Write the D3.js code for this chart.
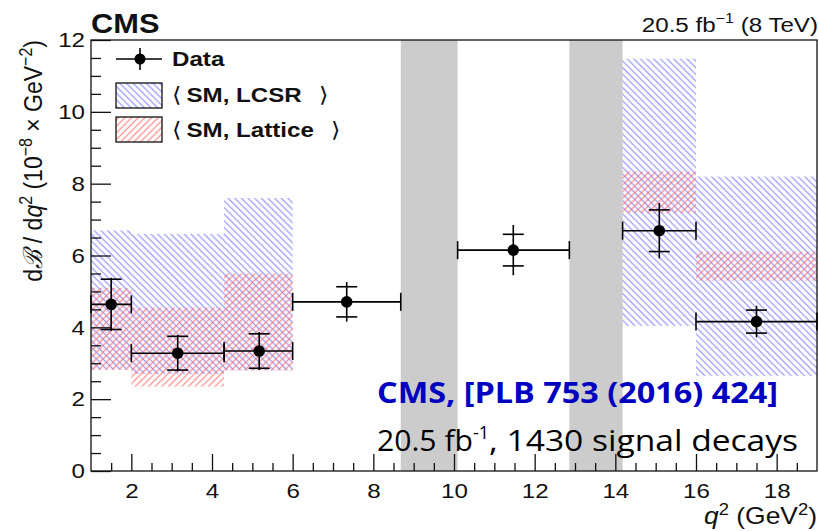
<!DOCTYPE html>
<html>
<head>
<meta charset="utf-8">
<script src="https://cdn.jsdelivr.net/npm/d3@7"></script>
<style>
  html, body { margin: 0; padding: 0; background: #fff; }
  svg { display: block; }
</style>
</head>
<body>
<svg id="chart" width="819" height="531"></svg>
<script>
// ---------------- data ----------------
const binLo   = [1, 2, 4.3, 6, 10.09, 14.18, 16];
const binHi   = [2, 4.3, 6, 8.68, 12.86, 16, 19];
const q2Mean  = [1.5, 3.15, 5.17, 7.34, 11.47, 15.09, 17.5];
const dBdq2   = [4.64, 3.28, 3.34, 4.71, 6.15, 6.69, 4.16];
const statErr = [0.70, 0.47, 0.48, 0.42, 0.44, 0.58, 0.32];
const totErr  = [0.74, 0.51, 0.53, 0.55, 0.70, 0.77, 0.44];

const thBinLo = [1, 2, 4.3, 14.18, 16];
const thBinHi = [2, 4.3, 6, 16, 19];
const lcsrLo  = [2.82, 2.7, 2.8, 4.04, 2.65];
const lcsrHi  = [6.7, 6.6, 7.6, 11.48, 8.2];
const latLo   = [2.82, 2.35, 2.8, 7.18, 5.3];
const latHi   = [5.1, 4.55, 5.5, 8.34, 6.11];

const vetoLo = [8.68, 12.86];
const vetoHi = [10.09, 14.18];

const xMajorTicks = [2, 4, 6, 8, 10, 12, 14, 16, 18];
const yMajorTicks = [0, 2, 4, 6, 8, 10, 12];

// ---------------- setup ----------------
const svg = d3.select("#chart");
const L = 91, R = 817, T = 40, B = 471;
const SX = 1.15; // horizontal stretch of ROOT text in the reference
const x = d3.scaleLinear().domain([1, 19]).range([L, R]);
const y = d3.scaleLinear().domain([0, 12]).range([B, T]);
const FONT = "'Liberation Sans', Arial, Helvetica, sans-serif";

const defs = svg.append("defs");
function hatch(id, color, angle) {
  const p = defs.append("pattern").attr("id", id)
    .attr("patternUnits", "userSpaceOnUse")
    .attr("width", 4.7).attr("height", 10)
    .attr("patternTransform", `rotate(${angle})`);
  p.append("line").attr("x1", 2.35).attr("x2", 2.35).attr("y1", 0).attr("y2", 10)
    .attr("stroke", color).attr("stroke-width", 1.3);
}
hatch("hatchBlue", "rgba(95,95,255,0.62)", -45);
hatch("hatchRed", "rgba(255,95,95,0.68)", 45);

// veto bands
svg.append("g").selectAll("rect").data(vetoLo).join("rect")
  .attr("x", (d) => x(d)).attr("width", (d, i) => x(vetoHi[i]) - x(d))
  .attr("y", T).attr("height", B - T).attr("fill", "#cccccc");

// theory bands
const th = svg.append("g");
th.selectAll("rect.lcsr").data(thBinLo).join("rect").attr("class", "lcsr")
  .attr("x", (d) => x(d)).attr("width", (d, i) => x(thBinHi[i]) - x(d))
  .attr("y", (d, i) => y(lcsrHi[i])).attr("height", (d, i) => y(lcsrLo[i]) - y(lcsrHi[i]))
  .attr("fill", "url(#hatchBlue)");
th.selectAll("rect.lat").data(thBinLo).join("rect").attr("class", "lat")
  .attr("x", (d) => x(d)).attr("width", (d, i) => x(thBinHi[i]) - x(d))
  .attr("y", (d, i) => y(latHi[i])).attr("height", (d, i) => y(latLo[i]) - y(latHi[i]))
  .attr("fill", "url(#hatchRed)");

// axes
const yMinor = d3.range(0, 12.01, 0.5).filter(v => v % 2 !== 0);
const xMinor = d3.range(1, 19.01, 0.5).filter(v => v % 2 !== 0 && v > 1 && v < 19);

const yAx = svg.append("g").attr("transform", `translate(${L},0)`)
  .call(d3.axisLeft(y).tickValues(yMajorTicks).tickSize(-20).tickPadding(6).tickFormat(d3.format("d")));
const yAxMin = svg.append("g").attr("transform", `translate(${L},0)`)
  .call(d3.axisLeft(y).tickValues(yMinor).tickSize(-10).tickFormat(""));
const xAx = svg.append("g").attr("transform", `translate(0,${B})`)
  .call(d3.axisBottom(x).tickValues(xMajorTicks).tickSize(-17).tickPadding(9).tickFormat(d3.format("d")));
const xAxMin = svg.append("g").attr("transform", `translate(0,${B})`)
  .call(d3.axisBottom(x).tickValues(xMinor).tickSize(-8).tickFormat(""));
[yAx, yAxMin, xAx, xAxMin].forEach(g => {
  g.select(".domain").remove();
  g.selectAll("line").attr("stroke", "#111").attr("stroke-width", 1.3);
  g.selectAll("text").attr("font-family", FONT).attr("font-size", 21).attr("fill", "#111");
});
xAx.selectAll("text").attr("dy", "0.85em").attr("transform", `scale(${SX},1)`);
yAx.selectAll("text").attr("x", -6 / SX).attr("transform", `scale(${SX},1)`);

// frame
svg.append("rect").attr("x", L).attr("y", T).attr("width", R - L).attr("height", B - T)
  .attr("fill", "none").attr("stroke", "#111").attr("stroke-width", 1.3);

// data points
const dg = svg.append("g").attr("stroke", "#000").attr("stroke-width", 1.6);
const idx = d3.range(dBdq2.length);
dg.selectAll("line.h").data(idx).join("line").attr("class", "h")
  .attr("x1", i => x(binLo[i])).attr("x2", i => x(binHi[i]))
  .attr("y1", i => y(dBdq2[i])).attr("y2", i => y(dBdq2[i]));
dg.selectAll("line.hl").data(idx).join("line").attr("class", "hl")
  .attr("x1", i => x(binLo[i])).attr("x2", i => x(binLo[i]))
  .attr("y1", i => y(dBdq2[i]) - 9).attr("y2", i => y(dBdq2[i]) + 9);
dg.selectAll("line.hr").data(idx).join("line").attr("class", "hr")
  .attr("x1", i => x(binHi[i])).attr("x2", i => x(binHi[i]))
  .attr("y1", i => y(dBdq2[i]) - 9).attr("y2", i => y(dBdq2[i]) + 9);
dg.selectAll("line.v").data(idx).join("line").attr("class", "v")
  .attr("x1", i => x(q2Mean[i])).attr("x2", i => x(q2Mean[i]))
  .attr("y1", i => y(dBdq2[i] + totErr[i])).attr("y2", i => y(dBdq2[i] - totErr[i]));
dg.selectAll("line.st").data(idx).join("line").attr("class", "st")
  .attr("x1", i => x(q2Mean[i]) - 10.5).attr("x2", i => x(q2Mean[i]) + 10.5)
  .attr("y1", i => y(dBdq2[i] + statErr[i])).attr("y2", i => y(dBdq2[i] + statErr[i]));
dg.selectAll("line.sb").data(idx).join("line").attr("class", "sb")
  .attr("x1", i => x(q2Mean[i]) - 10.5).attr("x2", i => x(q2Mean[i]) + 10.5)
  .attr("y1", i => y(dBdq2[i] - statErr[i])).attr("y2", i => y(dBdq2[i] - statErr[i]));
svg.append("g").selectAll("circle").data(idx).join("circle")
  .attr("cx", i => x(q2Mean[i])).attr("cy", i => y(dBdq2[i])).attr("r", 5.8).attr("fill", "#000");

// helper for stretched text
function sText(parent, px, py, size) {
  return parent.append("text").attr("transform", `translate(${px},${py}) scale(${SX},1)`)
    .attr("font-family", FONT).attr("font-size", size).attr("fill", "#111");
}

// legend
const lg = svg.append("g");
lg.append("line").attr("x1", 116).attr("x2", 162).attr("y1", 59).attr("y2", 59).attr("stroke", "#000").attr("stroke-width", 1.6);
lg.append("line").attr("x1", 140).attr("x2", 140).attr("y1", 48).attr("y2", 70).attr("stroke", "#000").attr("stroke-width", 1.6);
lg.append("circle").attr("cx", 140).attr("cy", 59).attr("r", 5.5).attr("fill", "#000");
lg.append("rect").attr("x", 116).attr("y", 83).attr("width", 46).attr("height", 25)
  .attr("fill", "url(#hatchBlue)").attr("stroke", "#111").attr("stroke-width", 1.3);
lg.append("rect").attr("x", 116).attr("y", 117).attr("width", 46).attr("height", 25)
  .attr("fill", "url(#hatchRed)").attr("stroke", "#111").attr("stroke-width", 1.3);
const legTxt = [["Data", 66], ["SM, LCSR", 102], ["SM, Lattice", 137]];
legTxt.forEach(([t, yy], k) => {
  const tx = sText(lg, 172, yy, 21);
  if (k === 0) {
    tx.append("tspan").attr("font-weight", "bold").text(t);
  } else {
    tx.append("tspan").text("\u27E8\u2009");
    tx.append("tspan").attr("font-weight", "bold").text(t);
    tx.append("tspan").text("\u2002\u2009\u27E9");
  }
});

// header texts
svg.append("text").attr("transform", "translate(91,33) scale(1.1,1)").attr("font-family", FONT)
  .attr("font-size", 28).attr("font-weight", "bold").attr("fill", "#111").text("CMS");
const lumi = sText(svg, 818, 32, 21).attr("text-anchor", "end");
lumi.append("tspan").text("20.5 fb");
lumi.append("tspan").attr("dy", -9).attr("font-size", 14).text("\u22121");
lumi.append("tspan").attr("dy", 9).text(" (8 TeV)");

// axis titles
const yt = svg.append("text").attr("transform", `translate(42,40) rotate(-90) scale(1,${SX})`)
  .attr("text-anchor", "end").attr("font-family", FONT).attr("font-size", 23).attr("fill", "#111");
yt.append("tspan").text("d");
yt.append("tspan").attr("font-style", "italic").attr("font-family", "'DejaVu Serif', serif").text("\u212C");
yt.append("tspan").text(" / d");
yt.append("tspan").attr("font-style", "italic").text("q");
yt.append("tspan").attr("dy", -9).attr("font-size", 16).text("2");
yt.append("tspan").attr("dy", 9).text(" (10");
yt.append("tspan").attr("dy", -9).attr("font-size", 16).text("\u22128");
yt.append("tspan").attr("dy", 9).text(" \u00D7 GeV");
yt.append("tspan").attr("dy", -9).attr("font-size", 16).text("\u22122");
yt.append("tspan").attr("dy", 9).text(")");

const xt = sText(svg, 817, 524, 23).attr("text-anchor", "end");
xt.append("tspan").attr("font-style", "italic").text("q");
xt.append("tspan").attr("dy", -9).attr("font-size", 16).text("2");
xt.append("tspan").attr("dy", 9).text(" (GeV");
xt.append("tspan").attr("dy", -9).attr("font-size", 16).text("2");
xt.append("tspan").attr("dy", 9).text(")");

// annotation
const AF = "'Open Sans', Lato, sans-serif";
svg.append("text").attr("x", 377).attr("y", 403).attr("font-family", AF)
  .attr("font-size", 29).attr("font-weight", "bold").attr("fill", "#0000c0")
  .attr("textLength", 401).attr("lengthAdjust", "spacingAndGlyphs")
  .text("CMS, [PLB 753 (2016) 424]");
const an2 = svg.append("text").attr("x", 377).attr("y", 451).attr("font-family", AF)
  .attr("font-size", 30).attr("fill", "#000");
an2.append("tspan").attr("textLength", 96).attr("lengthAdjust", "spacingAndGlyphs").text("20.5 fb");
an2.append("tspan").attr("dy", -12).attr("font-size", 18).text("-1");
an2.append("tspan").attr("dy", 12).attr("textLength", 309).attr("lengthAdjust", "spacingAndGlyphs").text(", 1430 signal decays");
</script>
</body>
</html>
